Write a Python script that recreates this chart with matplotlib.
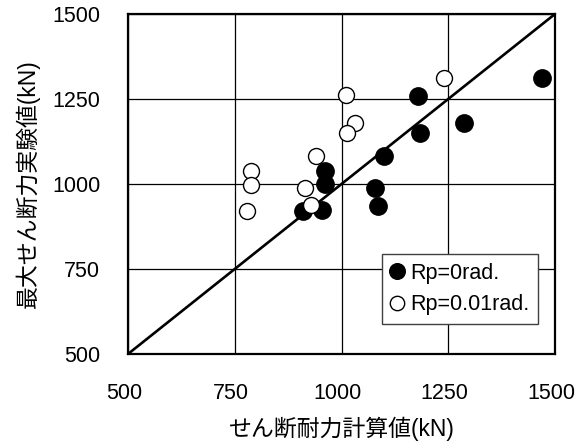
import numpy as np
import matplotlib
matplotlib.use('Agg')
import matplotlib.pyplot as plt
import matplotlib.transforms as mtransforms

plt.rcParams['font.family'] = ['Liberation Sans', 'Noto Sans CJK JP']

# Rp=0rad. (filled)
calc_0 = [962, 962, 911, 955, 1178, 1469, 1288, 1184, 1100, 1079, 1085]
exp_0 = [1038, 999, 922, 925, 1259, 1313, 1180, 1151, 1082, 989, 935]
# Rp=0.01rad. (open)
calc_1 = [788, 788, 779, 941, 914, 929, 1010, 1031, 1012, 1241]
exp_1 = [1038, 996, 921, 1082, 988, 937, 1261, 1180, 1151, 1313]

ticks = [500, 750, 1000, 1250, 1500]
ref_line = [500, 1500]

fig = plt.figure(figsize=(5.85, 4.41), dpi=100)
ax = fig.add_axes([128/585, 1-354/441, (555-128)/585, (354-14)/441])

ax.plot(ref_line, ref_line, c='black', lw=1.9, zorder=2)
ax.plot(calc_0, exp_0, 'o', ms=12.5, mfc='black', mec='black', mew=1.0,
        label='Rp=0rad.', zorder=3)
ax.plot(calc_1, exp_1, 'o', ms=11.5, mfc='white', mec='black', mew=1.0,
        label='Rp=0.01rad.', zorder=4)

ax.set_xlim(500, 1500)
ax.set_ylim(500, 1500)
ax.set_xticks(ticks)
ax.set_yticks(ticks)
ax.grid(True, color='black', lw=0.9)
ax.set_axisbelow(True)
ax.tick_params(length=0, labelsize=15.5, pad=21)
ax.tick_params(axis='y', pad=20)
for s in ax.spines.values():
    s.set_linewidth(1.6)

# x tick labels sit a little left of the grid lines in the original
shift = mtransforms.ScaledTranslation(-4/100, 0, fig.dpi_scale_trans)
for lbl in ax.get_xticklabels():
    lbl.set_transform(lbl.get_transform() + shift)

ax.set_xlabel('せん断耐力計算値(kN)', fontsize=16.5, labelpad=9)
ax.set_ylabel('最大せん断力実験値(kN)', fontsize=16.5, labelpad=9)

leg = ax.legend(loc='lower right', bbox_to_anchor=(0.96, 0.088), fontsize=15.5,
                markerscale=0.9, handlelength=0.6, handletextpad=0.3,
                labelspacing=0.5, borderpad=0.4, borderaxespad=0,
                fancybox=False, framealpha=1, edgecolor='#404040')
leg.get_frame().set_linewidth(1.0)

fig.savefig('out.png', dpi=100)
